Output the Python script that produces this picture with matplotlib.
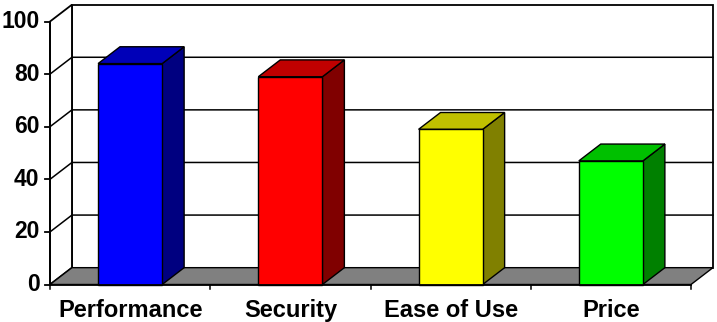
import matplotlib
matplotlib.use("Agg")
from matplotlib import pyplot as plt
import matplotlib.patches as patches

# dados
categorias = ["Performance", "Security", "Ease of Use", "Price"]
valores = [84, 79, 59, 47]
cor_frente = ["#0000FF", "#FF0000", "#FFFF00", "#00FF00"]
cor_topo = ["#0000B8", "#C00000", "#C0C000", "#00C000"]
cor_lado = ["#000080", "#800000", "#808000", "#008000"]
marcas_y = [0, 20, 40, 60, 80, 100]

# profundidade 3D em unidades dos dados
dx = 0.137
dy = 6.4
larg = 0.4
n = len(categorias)

plt.rcParams['font.family'] = ['Liberation Sans', 'DejaVu Sans']

fig = plt.figure(figsize=(7.17, 3.22), dpi=100)
ax = fig.add_axes([0, 0, 1, 1])
ax.set_xlim(-50/160.25, 667/160.25)
ax.set_ylim(-37.5/2.63, 284.5/2.63)
ax.axis('off')

def poli(pts, fc, lw=1.0, z=1):
    ax.add_patch(patches.Polygon(pts, closed=True, facecolor=fc, edgecolor='black',
                                 linewidth=lw, joinstyle='miter', zorder=z))

# parede do fundo
poli([(dx, dy), (n+dx, dy), (n+dx, 100+dy), (dx, 100+dy)], 'white', 1.3)
# parede lateral
poli([(0, 0), (dx, dy), (dx, 100+dy), (0, 100)], 'white', 1.3)

# grades
for v in marcas_y[1:-1]:
    ax.plot([0, dx, n+dx], [v, v+dy, v+dy], color='black', lw=1.1, zorder=2)

# chão
poli([(0, 0), (n, 0), (n+dx, dy), (dx, dy)], '#808080', 1.0, 3)

# barras
for i, v in enumerate(valores):
    x0 = i + 0.5 - larg/2
    x1 = x0 + larg
    poli([(x1, 0), (x1+dx, dy), (x1+dx, v+dy), (x1, v)], cor_lado[i], 1.0, 4)
    poli([(x0, v), (x1, v), (x1+dx, v+dy), (x0+dx, v+dy)], cor_topo[i], 1.0, 4)
    poli([(x0, 0), (x1, 0), (x1, v), (x0, v)], cor_frente[i], 1.0, 5)

# eixos da frente
ax.plot([0, 0], [0, 100], color='black', lw=1.3, zorder=6)
ax.plot([0, n], [0, 0], color='black', lw=1.3, zorder=6)
for v in marcas_y:
    ax.plot([-0.03, 0], [v, v], color='black', lw=1.3, zorder=6)
    ax.text(-0.065, v, str(v), ha='right', va='center', fontsize=16.5,
            fontweight='bold', zorder=6)
for i in range(n + 1):
    ax.plot([i, i], [0, -1.8], color='black', lw=1.1, zorder=6)
for i, c in enumerate(categorias):
    ax.text(i + 0.5, -10, c, ha='center', va='center', fontsize=17,
            fontweight='bold', zorder=6)

fig.savefig('out.png', dpi=100)
